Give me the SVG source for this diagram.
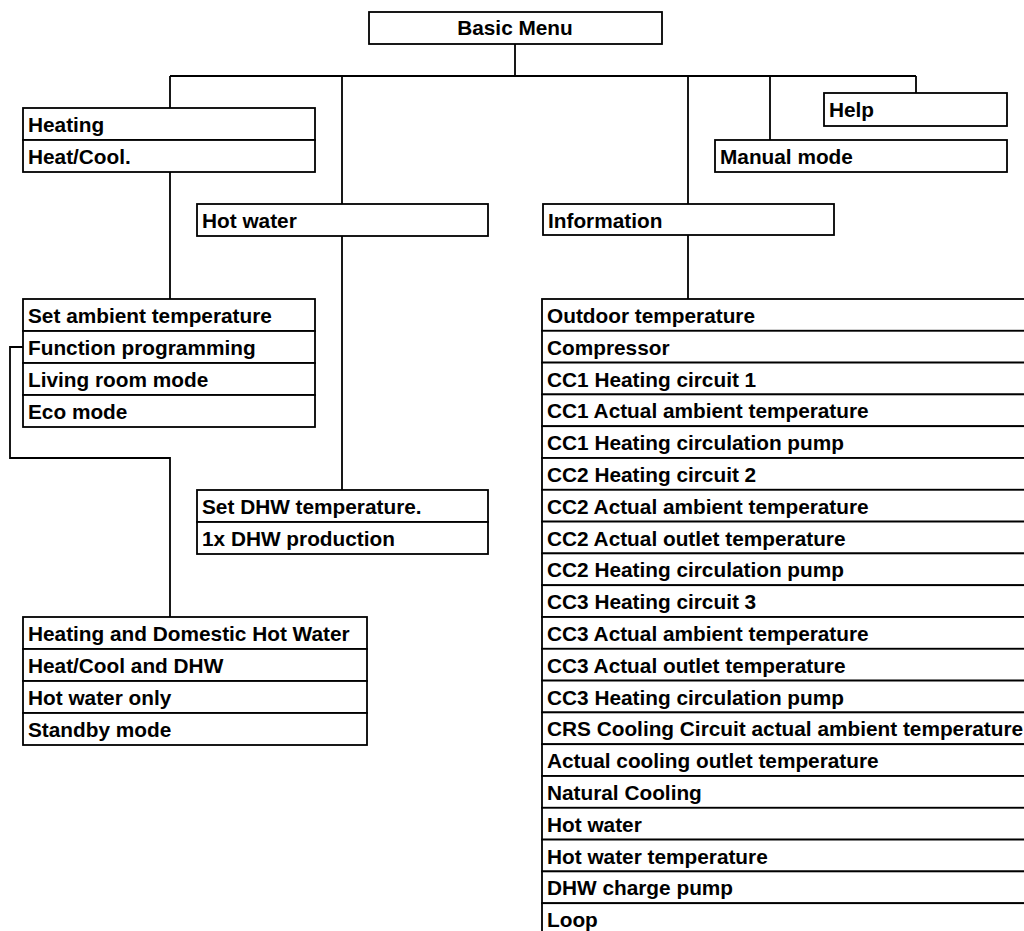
<svg xmlns="http://www.w3.org/2000/svg" width="1024" height="931" viewBox="0 0 1024 931">
<style>
.b{fill:#fff;stroke:#000;stroke-width:1.8}
.c{fill:none;stroke:#000;stroke-width:1.8}
text{font-family:"Liberation Sans",Arial,sans-serif;font-weight:bold;font-size:20.8px;fill:#000}
</style>
<rect width="1024" height="931" fill="#fff"/>
<g id="connectors">
<path class="c" d="M515 44V76M170 76H916M170 76V108M342 76V204M688 76V204M770 76V140M916 76V93"/>
<path class="c" d="M170 172V299M342 236V490M688 235V299"/>
<path class="c" d="M23 347H10V458H170V617"/>
</g>
<g id="basic-menu">
<rect class="b" x="369" y="12" width="293" height="32"/>
<text x="515" y="35" text-anchor="middle">Basic Menu</text>
</g>
<g id="heating">
<rect class="b" x="23" y="108" width="292" height="32"/>
<rect class="b" x="23" y="140" width="292" height="32"/>
<text x="28" y="132">Heating</text>
<text x="28" y="164">Heat/Cool.</text>
</g>
<g id="hot-water">
<rect class="b" x="197" y="204" width="291" height="32"/>
<text x="202" y="228">Hot water</text>
</g>
<g id="information">
<rect class="b" x="543" y="204" width="291" height="31"/>
<text x="548" y="228">Information</text>
</g>
<g id="manual-mode">
<rect class="b" x="715" y="140" width="292" height="32"/>
<text x="720" y="164">Manual mode</text>
</g>
<g id="help">
<rect class="b" x="824" y="93" width="183" height="33"/>
<text x="829" y="117">Help</text>
</g>
<g id="heating-submenu">
<rect class="b" x="23" y="299" width="292" height="32"/>
<rect class="b" x="23" y="331" width="292" height="32"/>
<rect class="b" x="23" y="363" width="292" height="32"/>
<rect class="b" x="23" y="395" width="292" height="32"/>
<text x="28" y="323">Set ambient temperature</text>
<text x="28" y="355">Function programming</text>
<text x="28" y="387">Living room mode</text>
<text x="28" y="419">Eco mode</text>
</g>
<g id="dhw-submenu">
<rect class="b" x="197" y="490" width="291" height="32"/>
<rect class="b" x="197" y="522" width="291" height="32"/>
<text x="202" y="514">Set DHW temperature.</text>
<text x="202" y="546">1x DHW production</text>
</g>
<g id="function-modes">
<rect class="b" x="23" y="617" width="344" height="32"/>
<rect class="b" x="23" y="649" width="344" height="32"/>
<rect class="b" x="23" y="681" width="344" height="32"/>
<rect class="b" x="23" y="713" width="344" height="32"/>
<text x="28" y="641">Heating and Domestic Hot Water</text>
<text x="28" y="673">Heat/Cool and DHW</text>
<text x="28" y="705">Hot water only</text>
<text x="28" y="737">Standby mode</text>
</g>
<g id="information-list">
<rect class="b" x="542" y="299" width="490" height="31.8"/>
<rect class="b" x="542" y="330.8" width="490" height="31.8"/>
<rect class="b" x="542" y="362.6" width="490" height="31.8"/>
<rect class="b" x="542" y="394.4" width="490" height="31.8"/>
<rect class="b" x="542" y="426.2" width="490" height="31.8"/>
<rect class="b" x="542" y="458" width="490" height="31.8"/>
<rect class="b" x="542" y="489.8" width="490" height="31.8"/>
<rect class="b" x="542" y="521.6" width="490" height="31.8"/>
<rect class="b" x="542" y="553.4" width="490" height="31.8"/>
<rect class="b" x="542" y="585.2" width="490" height="31.8"/>
<rect class="b" x="542" y="617" width="490" height="31.8"/>
<rect class="b" x="542" y="648.8" width="490" height="31.8"/>
<rect class="b" x="542" y="680.6" width="490" height="31.8"/>
<rect class="b" x="542" y="712.4" width="490" height="31.8"/>
<rect class="b" x="542" y="744.2" width="490" height="31.8"/>
<rect class="b" x="542" y="776" width="490" height="31.8"/>
<rect class="b" x="542" y="807.8" width="490" height="31.8"/>
<rect class="b" x="542" y="839.6" width="490" height="31.8"/>
<rect class="b" x="542" y="871.4" width="490" height="31.8"/>
<rect class="b" x="542" y="903.2" width="490" height="31.8"/>
<text x="547" y="323">Outdoor temperature</text>
<text x="547" y="354.8">Compressor</text>
<text x="547" y="386.6">CC1 Heating circuit 1</text>
<text x="547" y="418.4">CC1 Actual ambient temperature</text>
<text x="547" y="450.2">CC1 Heating circulation pump</text>
<text x="547" y="482">CC2 Heating circuit 2</text>
<text x="547" y="513.8">CC2 Actual ambient temperature</text>
<text x="547" y="545.6">CC2 Actual outlet temperature</text>
<text x="547" y="577.4">CC2 Heating circulation pump</text>
<text x="547" y="609.2">CC3 Heating circuit 3</text>
<text x="547" y="641">CC3 Actual ambient temperature</text>
<text x="547" y="672.8">CC3 Actual outlet temperature</text>
<text x="547" y="704.6">CC3 Heating circulation pump</text>
<text x="547" y="736.4">CRS Cooling Circuit actual ambient temperature</text>
<text x="547" y="768.2">Actual cooling outlet temperature</text>
<text x="547" y="800">Natural Cooling</text>
<text x="547" y="831.8">Hot water</text>
<text x="547" y="863.6">Hot water temperature</text>
<text x="547" y="895.4">DHW charge pump</text>
<text x="547" y="927">Loop</text>
</g>
</svg>
